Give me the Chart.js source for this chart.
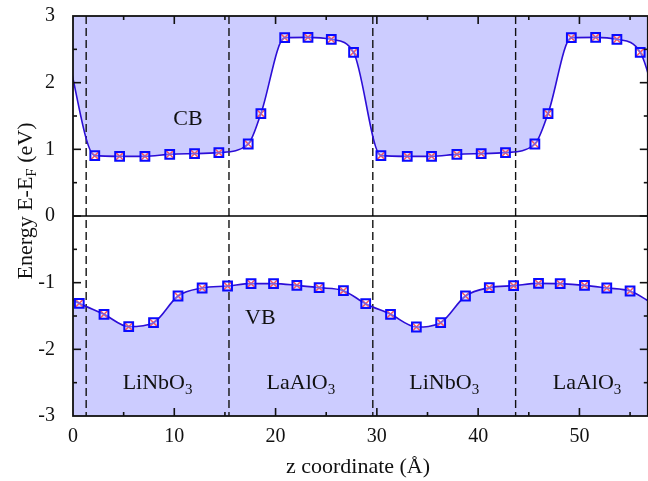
<!DOCTYPE html>
<html>
<head>
<meta charset="utf-8">
<script src="https://cdn.jsdelivr.net/npm/chart.js@4.4.1/dist/chart.umd.min.js"></script>
<style>
html, body { margin: 0; padding: 0; background: #fff; overflow: hidden; }
#wrap { width: 656px; height: 481px; }
</style>
</head>
<body>
<div id="wrap"><canvas id="bandChart" width="656" height="481"></canvas></div>
<script>
// conduction band edge (z in Angstrom, E-EF in eV); first/last points lie just outside the plotted range
const cbZ = [-0.6, 2.15, 4.6, 7.1, 9.55, 12.0, 14.4, 17.3, 18.55, 20.9, 23.2, 25.5, 27.7,
             30.4, 33.0, 35.4, 37.9, 40.3, 42.7, 45.6, 46.9, 49.2, 51.6, 53.7, 56.0, 58.7];
const cbE = [2.46, 0.905, 0.895, 0.895, 0.925, 0.935, 0.95, 1.08, 1.535, 2.675, 2.68, 2.65, 2.455,
             0.905, 0.895, 0.895, 0.925, 0.935, 0.95, 1.08, 1.535, 2.675, 2.68, 2.65, 2.455, 0.905];

// valence band edge
const vbZ = [-1.6, 0.62, 3.06, 5.5, 7.95, 10.37, 12.75, 15.26, 17.58, 19.8, 22.1, 24.3, 26.7,
             28.9, 31.35, 33.9, 36.3, 38.75, 41.1, 43.5, 45.96, 48.1, 50.5, 52.7, 55.0, 57.2];
const vbE = [-1.12, -1.31, -1.475, -1.66, -1.60, -1.20, -1.08, -1.05, -1.015, -1.015, -1.04, -1.075, -1.12,
             -1.315, -1.475, -1.665, -1.60, -1.20, -1.075, -1.045, -1.01, -1.015, -1.04, -1.08, -1.125, -1.31];

// interfaces between layers and the layer names
const interfaceZ = [1.3, 15.4, 29.6, 43.7];
const layerNames = ['LiNbO', 'LaAlO', 'LiNbO', 'LaAlO'];
const layerSub = '3';

const SERIF = '"Liberation Serif", "Times New Roman", "DejaVu Serif", serif';
const FILL = 'rgb(204,204,255)';
const LINE = 'rgb(44,14,215)';

const toXY = (zs, es) => zs.map((z, i) => ({ x: z, y: es[i] }));

// draw a run of [text, isSub] parts as one string
function drawParts(ctx, parts, x, y, size, align) {
    const subSize = Math.round(size * 0.68);
    let w = 0;
    parts.forEach(([t, sub]) => { ctx.font = (sub ? subSize : size) + 'px ' + SERIF; w += ctx.measureText(t).width; });
    let cx = align === 'center' ? x - w / 2 : x;
    ctx.textAlign = 'left';
    parts.forEach(([t, sub]) => {
        ctx.font = (sub ? subSize : size) + 'px ' + SERIF;
        ctx.fillText(t, cx, sub ? y + size * 0.2 : y);
        cx += ctx.measureText(t).width;
    });
}

const decor = {
    id: 'decor',
    beforeDatasetsDraw(chart) {
        const { ctx, chartArea: a, scales: { x, y } } = chart;
        ctx.save();
        ctx.beginPath(); ctx.rect(a.left, a.top, a.right - a.left, a.bottom - a.top); ctx.clip();
        ctx.strokeStyle = '#111'; ctx.lineWidth = 1.4;
        ctx.setLineDash([8, 4]);
        interfaceZ.forEach(z => {
            const px = x.getPixelForValue(z);
            ctx.beginPath(); ctx.moveTo(px, a.top); ctx.lineTo(px, a.bottom); ctx.stroke();
        });
        ctx.setLineDash([]);
        ctx.lineWidth = 1.6; ctx.strokeStyle = '#000';
        const y0 = y.getPixelForValue(0);
        ctx.beginPath(); ctx.moveTo(a.left, y0); ctx.lineTo(a.right, y0); ctx.stroke();

        ctx.fillStyle = '#111';
        ctx.textBaseline = 'alphabetic';
        drawParts(ctx, [['CB', false]], x.getPixelForValue(11.35), y.getPixelForValue(1.37), 22, 'center');
        drawParts(ctx, [['VB', false]], x.getPixelForValue(18.5), y.getPixelForValue(-1.62), 22, 'center');
        const bounds = interfaceZ.concat([interfaceZ[3] + (interfaceZ[3] - interfaceZ[2])]);
        layerNames.forEach((n, i) => {
            const mid = (bounds[i] + bounds[i + 1]) / 2;
            drawParts(ctx, [[n, false], [layerSub, true]], x.getPixelForValue(mid), y.getPixelForValue(-2.6), 22, 'center');
        });
        ctx.restore();
    },
    afterDatasetsDraw(chart) {
        const { ctx, chartArea: a, scales: { x, y } } = chart;
        ctx.save();
        ctx.strokeStyle = '#111'; ctx.lineWidth = 1.8;
        ctx.strokeRect(a.left, a.top, a.right - a.left, a.bottom - a.top);
        ctx.lineWidth = 1.6;
        const seg = (x1, y1, x2, y2) => { ctx.beginPath(); ctx.moveTo(x1, y1); ctx.lineTo(x2, y2); ctx.stroke(); };
        for (let v = 5; v < x.max; v += 5) {
            const p = x.getPixelForValue(v), len = v % 10 === 0 ? 8 : 4;
            seg(p, a.bottom, p, a.bottom - len);
            seg(p, a.top, p, a.top + len);
        }
        for (let v = -2.5; v < 3; v += 0.5) {
            const p = y.getPixelForValue(v), len = Number.isInteger(v) ? 8 : 4;
            seg(a.left, p, a.left + len, p);
            seg(a.right, p, a.right - len, p);
        }
        ctx.restore();
    },
    afterDraw(chart) {
        const { ctx } = chart;
        ctx.save();
        ctx.fillStyle = '#111';
        ctx.textBaseline = 'alphabetic';
        drawParts(ctx, [['z coordinate (Å)', false]], 358, 473, 22, 'center');
        ctx.translate(32, 201);
        ctx.rotate(-Math.PI / 2);
        drawParts(ctx, [['Energy E-E', false], ['F', true], [' (eV)', false]], 0, 0, 22, 'center');
        ctx.restore();
    }
};

const pointSet = {
    pointStyle: 'rect', pointRadius: 6.2, pointHoverRadius: 6.2,
    pointBorderColor: 'rgb(10,10,255)', pointBorderWidth: 2, pointBackgroundColor: 'rgba(255,255,255,0.35)'
};
const crossSet = {
    showLine: false, fill: false, pointStyle: 'crossRot', pointRadius: 5.6, pointHoverRadius: 5.6,
    pointBorderColor: 'rgb(255,0,0)', pointBorderWidth: 1.5
};

new Chart(document.getElementById('bandChart').getContext('2d'), {
    type: 'line',
    data: {
        datasets: [
            { label: 'CB', data: toXY(cbZ, cbE), borderColor: LINE, borderWidth: 1.6, backgroundColor: FILL, fill: 'end', cubicInterpolationMode: 'monotone', ...pointSet },
            { label: 'VB', data: toXY(vbZ, vbE), borderColor: LINE, borderWidth: 1.6, backgroundColor: FILL, fill: 'start', cubicInterpolationMode: 'monotone', ...pointSet },
            { label: 'CBx', data: toXY(cbZ, cbE), ...crossSet },
            { label: 'VBx', data: toXY(vbZ, vbE), ...crossSet }
        ]
    },
    options: {
        responsive: false, animation: false,
        layout: { padding: { top: 16, right: 3, left: 0, bottom: 0 } },
        plugins: { legend: { display: false }, tooltip: { enabled: false }, filler: { drawTime: 'beforeDatasetsDraw' } },
        scales: {
            x: {
                type: 'linear', min: 0, max: 56.75,
                grid: { display: false, drawTicks: false }, border: { display: false },
                ticks: { stepSize: 10, includeBounds: false, padding: 9, color: '#111', font: { family: SERIF, size: 20 } },
                afterFit: s => { s.height = 65; s.paddingLeft = 0; s.paddingRight = 0; }
            },
            y: {
                min: -3, max: 3,
                grid: { display: false, drawTicks: false }, border: { display: false },
                ticks: { stepSize: 1, padding: 18, color: '#111', font: { family: SERIF, size: 20 } },
                afterFit: s => { s.width = 73; s.paddingTop = 0; s.paddingBottom = 0; }
            }
        }
    },
    plugins: [decor]
});
</script>
</body>
</html>
